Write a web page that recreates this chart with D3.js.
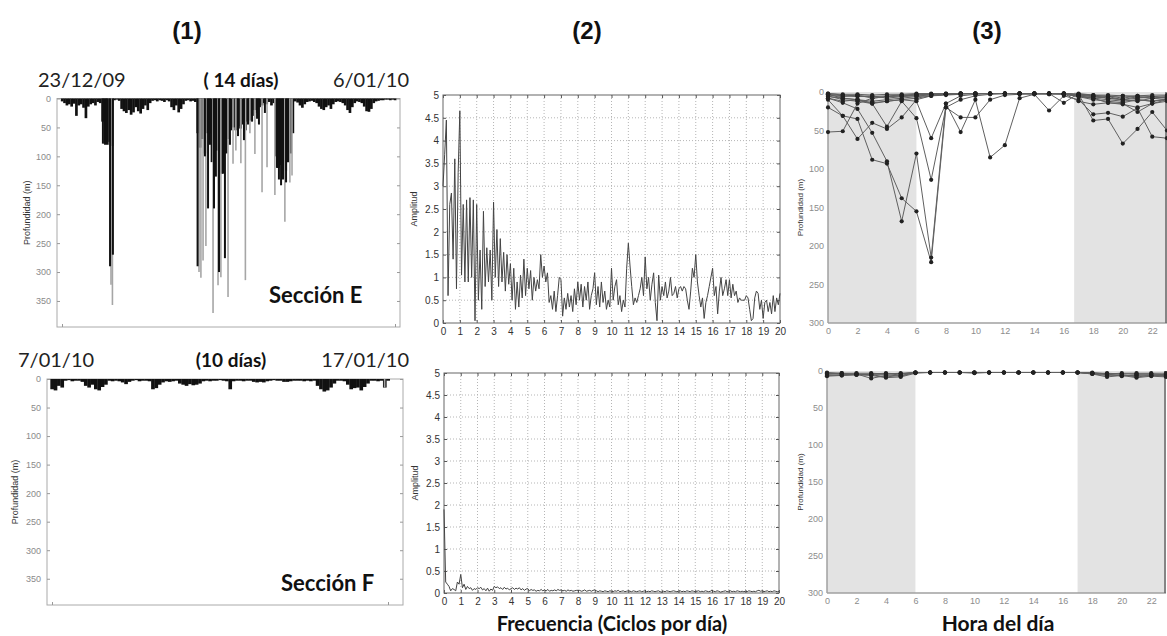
<!DOCTYPE html>
<html>
<head>
<meta charset="utf-8">
<script src="https://cdnjs.cloudflare.com/ajax/libs/d3/7.8.5/d3.min.js"></script>
<style>
  body { margin: 0; background: #fff; }
  svg { display: block; }
</style>
</head>
<body>
<svg id="fig" width="1167" height="636"></svg>
<script>
// ---------------- data ----------------
// (1) dive profiles: shallow activity sampled every 0.1 day (m)
const sampleStep = 0.1;
const shallowE = [5,8,12,10,14,9,30,12,10,16,34,14,10,8,12,6,8,
  40,78,80,75,82,
  3,2,4,
  18,22,25,20,28,24,15,22,26,18,12,20,8,
  4,3,5,3,4,6,3,5,
  15,20,12,24,18,10,
  4,3,5,4,6,
  60,85,70,95,60,80,110,70,90,60,130,75,95,70,55,
  50,55,48,52,45,55,40,38,30,
  20,25,15,12,
  8,10,6,12,8,
  100,120,115,140,125,110,95,60,
  5,7,12,16,10,6,5,4,6,8,14,18,20,15,12,18,10,6,5,6,8,12,20,25,15,8,5,6,8,14,22,23,18,8,5,4,3,3,2,2,3,2,3];
// deep dives of section E: day, max depth (m), tone (0 dark record, 1 light record)
const diveDayE = [1.72,1.81,1.89,2.02,2.06,2.12,2.14,
  5.70,5.76,5.84,5.93,6.01,6.05,6.14,6.22,6.35,6.39,6.47,6.56,6.60,6.68,6.77,6.85,6.98,7.06,
  7.19,7.31,7.40,7.52,7.65,7.71,7.82,7.90,7.99,8.11,8.20,8.28,8.41,8.53,8.62,8.95,9.04,9.12,9.21,9.29,9.37,9.42,9.50,9.58,9.67];
const diveDepthE = [78,80,75,290,322,357,270,
  290,300,310,280,100,255,190,60,371,190,135,323,300,309,130,276,343,80,
  113,90,65,112,72,314,45,60,40,96,35,45,162,25,119,167,120,140,150,130,213,145,110,145,133];
const diveToneE = [0,0,0,0,1,1,0,
  0,1,1,1,0,1,0,0,1,0,0,1,0,1,0,0,1,0,
  1,1,0,1,0,1,0,1,0,1,0,0,1,0,1,1,0,0,0,0,1,0,0,1,1];
const shallowF = [18,20,12,15,3,2,4,3,3,5,12,15,10,18,20,14,10,3,4,3,
  4,6,9,5,3,2,4,3,3,4,18,16,10,6,4,5,4,3,8,10,
  12,9,11,10,8,4,3,4,3,3,2,3,4,18,4,3,3,4,3,3,
  5,6,5,6,4,3,2,3,3,5,5,4,3,3,3,4,3,4,3,12,
  18,22,20,15,8,3,3,4,10,18,16,15,20,14,8,3,3,4,3,15,3];
const diveDayF = [9.9];
const diveDepthF = [15];
const diveToneF = [1];
const depthTicks = [0,50,100,150,200,250,300,350];

// (2) amplitude spectra, frequency step 0.1 cycles/day
const freqStep = 0.1;
const ampE = [3.0,3.7,4.45,0.6,2.6,2.85,1.4,3.6,0.75,3.3,
  4.65,1.05,2.6,0.9,2.7,0.9,2.75,1.0,2.7,0.05,
  2.6,0.5,1.6,0.3,2.45,0.8,1.65,0.9,1.6,0.5,
  2.65,1.0,2.05,0.8,1.85,0.9,1.55,0.7,1.5,0.85,
  1.3,0.5,1.2,0.3,0.9,0.35,1.05,0.55,1.4,0.6,
  1.2,0.75,1.15,0.5,1.0,0.7,0.95,0.75,1.5,1.0,
  1.25,0.9,1.1,0.45,0.6,0.3,0.7,0.25,0.6,1.0,
  0.95,0.15,0.55,0.3,0.65,0.35,0.6,0.25,0.75,0.4,
  0.9,0.5,0.85,0.35,0.8,0.5,0.9,0.3,0.6,0.75,
  1.1,0.4,0.8,0.35,0.9,0.45,0.7,0.3,0.5,0.35,
  1.2,0.5,0.8,0.95,0.4,0.6,0.25,0.5,0.35,1.2,
  1.75,1.25,0.8,0.4,0.55,0.45,0.6,0.75,1.0,0.6,
  1.45,0.75,1.0,0.5,0.85,1.1,0.45,0.05,1.05,0.5,
  0.8,0.6,0.9,0.55,0.7,1.0,0.6,0.65,0.8,0.55,
  0.75,0.8,0.7,0.8,0.75,0.5,0.3,0.7,1.2,1.0,
  1.5,0.9,0.6,0.35,0.55,0.1,0.45,0.6,0.8,1.0,
  1.2,0.6,0.8,0.2,0.7,1.0,0.6,0.75,0.95,0.6,
  0.95,0.55,0.85,0.6,0.7,0.45,0.55,0.5,0.5,0.5,
  0.6,0.55,0.3,0.05,0.1,0.55,0.7,0.65,0.3,0.5,
  0.1,0.45,0.5,0.25,0.45,0.2,0.6,0.25,0.55,0.4,
  0.65];
const ampF = [1.9,0.25,0.2,0.15,0.05,0.1,0.08,0.05,0.25,0.2,0.42,0.12,0.2,0.08,0.15,0.1,0.12,0.06,0.1,0.08,
  0.12,0.1,0.13,0.07,0.1,0.05,0.11,0.04,0.09,0.06,0.15,0.12,0.14,0.1,0.12,0.08,0.13,0.09,0.11,0.07,
  0.1,0.12,0.08,0.11,0.09,0.12,0.07,0.1,0.06,0.09,0.1,0.05,0.08,0.06,0.07,0.04,0.06,0.05,0.08,0.05,
  0.07,0.05,0.08,0.04,0.06,0.05,0.07,0.05,0.08,0.06,0.07,0.05,0.06,0.04,0.07,0.05,0.06,0.04,0.05,0.06,
  0.05,0.06,0.04,0.05,0.07,0.04,0.05,0.06,0.04,0.06,0.07,0.05,0.03,0.05,0.04,0.03,0.05,0.04,0.03,0.05,
  0.04,0.03,0.05,0.04,0.06,0.03,0.04,0.05,0.03,0.04,0.05,0.04,0.03,0.05,0.04,0.03,0.04,0.05,0.03,0.04,
  0.05,0.03,0.04,0.03,0.05,0.04,0.03,0.04,0.05,0.03,0.02,0.04,0.03,0.05,0.04,0.03,0.04,0.05,0.04,0.03,
  0.04,0.05,0.03,0.04,0.03,0.05,0.04,0.03,0.05,0.04,0.03,0.04,0.05,0.03,0.04,0.03,0.05,0.04,0.03,0.04,
  0.06,0.04,0.03,0.05,0.04,0.02,0.03,0.04,0.05,0.03,0.04,0.05,0.03,0.04,0.03,0.05,0.04,0.03,0.04,0.03,
  0.04,0.03,0.05,0.04,0.03,0.04,0.03,0.05,0.06,0.04,0.05,0.03,0.04,0.05,0.03,0.04,0.03,0.05,0.04,0.03,
  0.04];
const ampTicks = [0,0.5,1,1.5,2,2.5,3,3.5,4,4.5,5];
const freqTicks = d3.range(0, 21);

// (3) hourly depth per day (hours 0..23, m)
const hours = d3.range(0, 24);
const hourlyE = [
  [52,51,15,8,6,5,4,3,3,2,2,2,2,2,2,2,3,5,8,6,10,8,6,5],
  [20,31,35,88,93,138,155,221,20,10,5,3,2,2,3,2,2,4,6,5,8,5,6,8],
  [10,31,61,40,48,33,10,5,3,2,2,2,2,2,2,3,2,12,16,14,15,26,15,10],
  [8,14,22,53,90,168,80,215,15,5,3,2,2,2,2,2,2,3,5,8,10,6,8,10],
  [5,10,12,15,45,12,34,114,20,33,33,10,4,3,2,2,2,3,37,35,67,48,26,50],
  [3,8,10,14,12,10,12,60,15,52,10,85,69,8,3,24,5,10,29,27,32,21,58,60],
  [2,4,5,6,5,4,3,3,2,2,2,2,2,2,2,2,14,2,4,6,5,7,8,6],
  [3,5,6,5,8,6,5,4,3,2,2,2,2,2,2,2,2,4,6,8,10,12,8,7],
  [6,8,10,12,10,8,6,5,4,3,2,2,2,2,2,2,2,5,8,10,12,10,12,9],
  [4,6,4,8,6,5,4,3,3,2,2,2,2,2,2,2,3,6,10,12,14,10,12,10],
  [2,3,3,4,3,3,2,2,2,2,2,2,2,2,2,2,2,3,4,4,5,5,4,4],
  [8,12,10,15,12,10,8,5,3,2,2,2,2,2,2,2,2,6,8,14,16,20,15,12]
];
const hourlyF = [
  [5,6,5,5,8,6,2,2,2,2,2,2,2,2,2,2,2,2,3,5,6,6,5,5],
  [3,4,4,10,6,4,2,2,2,2,2,2,2,2,2,2,2,2,4,6,5,8,6,6],
  [6,5,4,5,5,7,2,2,2,2,2,2,2,2,2,2,2,2,3,4,7,5,6,7],
  [4,3,5,4,3,4,2,2,2,2,3,2,2,2,2,2,2,2,3,3,4,4,4,5],
  [2,3,3,3,4,3,2,2,2,2,2,2,2,2,2,2,2,2,2,4,3,3,3,3],
  [7,6,5,6,9,8,3,2,2,2,2,2,2,2,2,2,2,2,4,8,6,9,7,8]
];
const hourTicks = [0,2,4,6,8,10,12,14,16,18,20,22];
const hourDepthTicks = [0,50,100,150,200,250,300];
const nightE = [[0, 6], [16.7, 23]];
const nightF = [[0, 6], [17, 23]];

// ---------------- drawing ----------------
const svg = d3.select('#fig');
const SANS = "'Liberation Sans', Arial, sans-serif";
const CAL = "Lato, 'Open Sans', sans-serif";

function styleAxis(g, color, size, fontColor) {
  g.select('.domain').remove();
  g.selectAll('line').attr('stroke', color);
  g.selectAll('text').attr('font-family', SANS).attr('font-size', size).attr('fill', fontColor || color);
}

// Depth-vs-time dive record
function profilePanel(c) {
  const g = svg.append('g');
  const x = d3.scaleLinear().domain([0, c.days]).range([c.dataL, c.dataR]);
  const y = d3.scaleLinear().domain([0, c.maxDepth]).range([c.top, c.bottom]);
  const w = x(sampleStep) - x(0);

  g.append('rect').attr('x', c.left).attr('y', c.top)
    .attr('width', c.right - c.left).attr('height', c.bottom - c.top)
    .attr('fill', 'none').attr('stroke', '#aaa');

  const ya = g.append('g').attr('transform', `translate(${c.left},0)`)
    .call(d3.axisLeft(y).tickValues(depthTicks).tickSize(-3).tickPadding(6));
  styleAxis(ya, '#999', 9, '#8a8a8a');
  const yr = g.append('g').attr('transform', `translate(${c.right},0)`)
    .call(d3.axisRight(y).tickValues(depthTicks).tickSize(-3).tickFormat(''));
  styleAxis(yr, '#999', 9);
  const xb = g.append('g').attr('transform', `translate(0,${c.bottom})`)
    .call(d3.axisBottom(x).tickValues([0, c.days]).tickSize(-3).tickFormat(''));
  styleAxis(xb, '#999', 9);

  g.append('text').attr('transform', `translate(${c.labelX},${(c.top + c.bottom) / 2}) rotate(-90)`)
    .attr('text-anchor', 'middle').attr('font-family', SANS).attr('font-size', 9).attr('fill', '#333')
    .text('Profundidad (m)');

  // shallow activity, drawn as a contiguous band of samples
  g.append('g').selectAll('rect').data(c.shallow).join('rect')
    .attr('x', (d, i) => x(i * sampleStep) - w / 2)
    .attr('width', w + 0.3)
    .attr('y', y(0))
    .attr('height', d => y(d) - y(0))
    .attr('fill', '#111');

  // deep dives: light records first, dark on top
  const dives = c.diveDay.map((d, i) => ({ day: d, depth: c.diveDepth[i], tone: c.diveTone[i] }));
  g.append('g').selectAll('line').data(dives.filter(d => d.tone === 1)).join('line')
    .attr('x1', d => x(d.day)).attr('x2', d => x(d.day))
    .attr('y1', y(0)).attr('y2', d => y(d.depth))
    .attr('stroke', '#a6a6a6').attr('stroke-width', 1.6);
  g.append('g').selectAll('line').data(dives.filter(d => d.tone === 0)).join('line')
    .attr('x1', d => x(d.day)).attr('x2', d => x(d.day))
    .attr('y1', y(0)).attr('y2', d => y(d.depth))
    .attr('stroke', '#111').attr('stroke-width', 2);

  // period labels
  g.append('text').attr('x', c.dateL[0]).attr('y', c.dateY).attr('font-family', CAL).attr('font-size', 20)
    .attr('fill', '#222').text(c.dateL[1]);
  g.append('text').attr('x', c.dateR[0]).attr('y', c.dateY).attr('font-family', CAL).attr('font-size', 20)
    .attr('fill', '#222').attr('text-anchor', 'end').text(c.dateR[1]);
  g.append('text').attr('x', c.span[0]).attr('y', c.dateY).attr('font-family', CAL).attr('font-size', 19)
    .attr('font-weight', 'bold').attr('fill', '#111').attr('text-anchor', 'middle').text(c.span[1]);
  g.append('text').attr('x', c.section[0]).attr('y', c.section[1]).attr('font-family', CAL).attr('font-size', 22)
    .attr('font-weight', 'bold').attr('fill', '#111').text(c.section[2]);
}

// Amplitude spectrum
function spectrumPanel(c) {
  const g = svg.append('g');
  const x = d3.scaleLinear().domain([0, 20]).range([c.left, c.right]);
  const y = d3.scaleLinear().domain([0, 5]).range([c.bottom, c.top]);
  const H = c.bottom - c.top, W = c.right - c.left;

  // dotted grid
  g.append('g').selectAll('line').data(freqTicks.slice(1, -1)).join('line')
    .attr('x1', d => x(d)).attr('x2', d => x(d)).attr('y1', c.top).attr('y2', c.bottom)
    .attr('stroke', '#b5b5b5').attr('stroke-dasharray', '1,2');
  g.append('g').selectAll('line').data(ampTicks.slice(1, -1)).join('line')
    .attr('x1', c.left).attr('x2', c.right).attr('y1', d => y(d)).attr('y2', d => y(d))
    .attr('stroke', '#b5b5b5').attr('stroke-dasharray', '1,2');

  const ya = g.append('g').attr('transform', `translate(${c.left},0)`)
    .call(d3.axisLeft(y).tickValues(ampTicks).tickSize(-3).tickPadding(4).tickFormat(d => String(d)));
  styleAxis(ya, '#555', 10, '#333');
  const xa = g.append('g').attr('transform', `translate(0,${c.bottom})`)
    .call(d3.axisBottom(x).tickValues(freqTicks).tickSize(-3).tickPadding(5));
  styleAxis(xa, '#555', 10, '#333');
  const yr = g.append('g').attr('transform', `translate(${c.right},0)`)
    .call(d3.axisRight(y).tickValues(ampTicks).tickSize(-3).tickFormat(''));
  styleAxis(yr, '#555', 10);
  const xt = g.append('g').attr('transform', `translate(0,${c.top})`)
    .call(d3.axisTop(x).tickValues(freqTicks).tickSize(-3).tickFormat(''));
  styleAxis(xt, '#555', 10);

  g.append('rect').attr('x', c.left).attr('y', c.top).attr('width', W).attr('height', H)
    .attr('fill', 'none').attr('stroke', '#666');

  g.append('text').attr('transform', `translate(${c.labelX},${(c.top + c.bottom) / 2}) rotate(-90)`)
    .attr('text-anchor', 'middle').attr('font-family', SANS).attr('font-size', 9).attr('fill', '#333')
    .text('Amplitud');

  const line = d3.line().x((d, i) => x(i * freqStep)).y(d => y(d));
  g.append('path').datum(c.amp).attr('d', line)
    .attr('fill', 'none').attr('stroke', '#444').attr('stroke-width', 1).attr('stroke-linejoin', 'round');
}

// Hourly depth by time of day
function hourPanel(c) {
  const g = svg.append('g');
  const x = d3.scaleLinear().domain([0, 23]).range([c.left, c.right]);
  const y = d3.scaleLinear().domain([0, 300]).range([c.top, c.bottom]);

  g.append('g').selectAll('rect').data(c.night).join('rect')
    .attr('x', d => x(d[0])).attr('width', d => x(d[1]) - x(d[0]))
    .attr('y', c.top).attr('height', c.bottom - c.top).attr('fill', '#e3e3e3');

  const ya = g.append('g').attr('transform', `translate(${c.left},0)`)
    .call(d3.axisLeft(y).tickValues(hourDepthTicks).tickSize(0).tickPadding(4));
  styleAxis(ya, '#999', 9, '#8c8c8c');
  const xa = g.append('g').attr('transform', `translate(0,${c.bottom})`)
    .call(d3.axisBottom(x).tickValues(hourTicks).tickSize(0).tickPadding(5));
  styleAxis(xa, '#999', 9, '#8c8c8c');

  g.append('line').attr('x1', c.left).attr('x2', c.left).attr('y1', c.top).attr('y2', c.bottom)
    .attr('stroke', '#a0a0a0').attr('stroke-width', 1.5);
  g.append('line').attr('x1', c.left).attr('x2', c.right).attr('y1', c.bottom).attr('y2', c.bottom)
    .attr('stroke', '#a0a0a0').attr('stroke-width', 1.5);
  g.append('line').attr('x1', c.right - 1).attr('x2', c.right - 1).attr('y1', c.top).attr('y2', c.bottom)
    .attr('stroke', '#666').attr('stroke-width', 1.5);

  g.append('text').attr('transform', `translate(${c.labelX},${(c.top + c.bottom) / 2}) rotate(-90)`)
    .attr('text-anchor', 'middle').attr('font-family', SANS).attr('font-size', 8).attr('fill', '#333')
    .text('Profundidad (m)');

  const line = d3.line().x((d, i) => x(hours[i])).y(d => y(d));
  g.append('g').selectAll('path').data(c.series).join('path')
    .attr('d', line).attr('fill', 'none').attr('stroke', '#606060').attr('stroke-width', 1);
  g.append('g').selectAll('g').data(c.series).join('g')
    .selectAll('circle').data(d => d).join('circle')
    .attr('cx', (d, i) => x(hours[i])).attr('cy', d => y(d)).attr('r', 2.1).attr('fill', '#222');
}

// column headings
[['(1)', 187], ['(2)', 587], ['(3)', 987]].forEach(([t, cx]) => {
  svg.append('text').attr('x', cx).attr('y', 39).attr('text-anchor', 'middle')
    .attr('font-family', SANS).attr('font-weight', 'bold').attr('font-size', 24).attr('fill', '#111').text(t);
});

profilePanel({
  left: 57, right: 400, top: 98.5, bottom: 327, dataL: 62, dataR: 395, days: 14, maxDepth: 395,
  shallow: shallowE, diveDay: diveDayE, diveDepth: diveDepthE, diveTone: diveToneE,
  labelX: 30, dateY: 87, dateL: [38, '23/12/09'], dateR: [409, '6/01/10'], span: [241, '( 14 días)'],
  section: [269, 303, 'Sección E']
});
profilePanel({
  left: 47, right: 403, top: 379, bottom: 605, dataL: 52, dataR: 388, days: 10, maxDepth: 396,
  shallow: shallowF, diveDay: diveDayF, diveDepth: diveDepthF, diveTone: diveToneF,
  labelX: 18, dateY: 367, dateL: [18, '7/01/10'], dateR: [409, '17/01/10'], span: [231, '(10 días)'],
  section: [281, 591, 'Sección F']
});

spectrumPanel({ left: 443, right: 780, top: 95, bottom: 323, amp: ampE, labelX: 417 });
spectrumPanel({ left: 444, right: 779, top: 373, bottom: 593, amp: ampF, labelX: 418 });

hourPanel({ left: 828, right: 1167, top: 92, bottom: 323, series: hourlyE, night: nightE, labelX: 803 });
hourPanel({ left: 827, right: 1166, top: 371, bottom: 593, series: hourlyF, night: nightF, labelX: 803 });

// axis titles under the bottom row
svg.append('text').attr('x', 612).attr('y', 631).attr('text-anchor', 'middle')
  .attr('font-family', CAL).attr('font-weight', 'bold').attr('font-size', 20).attr('fill', '#111')
  .text('Frecuencia (Ciclos por día)');
svg.append('text').attr('x', 998).attr('y', 631).attr('text-anchor', 'middle')
  .attr('font-family', CAL).attr('font-weight', 'bold').attr('font-size', 21).attr('fill', '#111')
  .text('Hora del día');
</script>
</body>
</html>
